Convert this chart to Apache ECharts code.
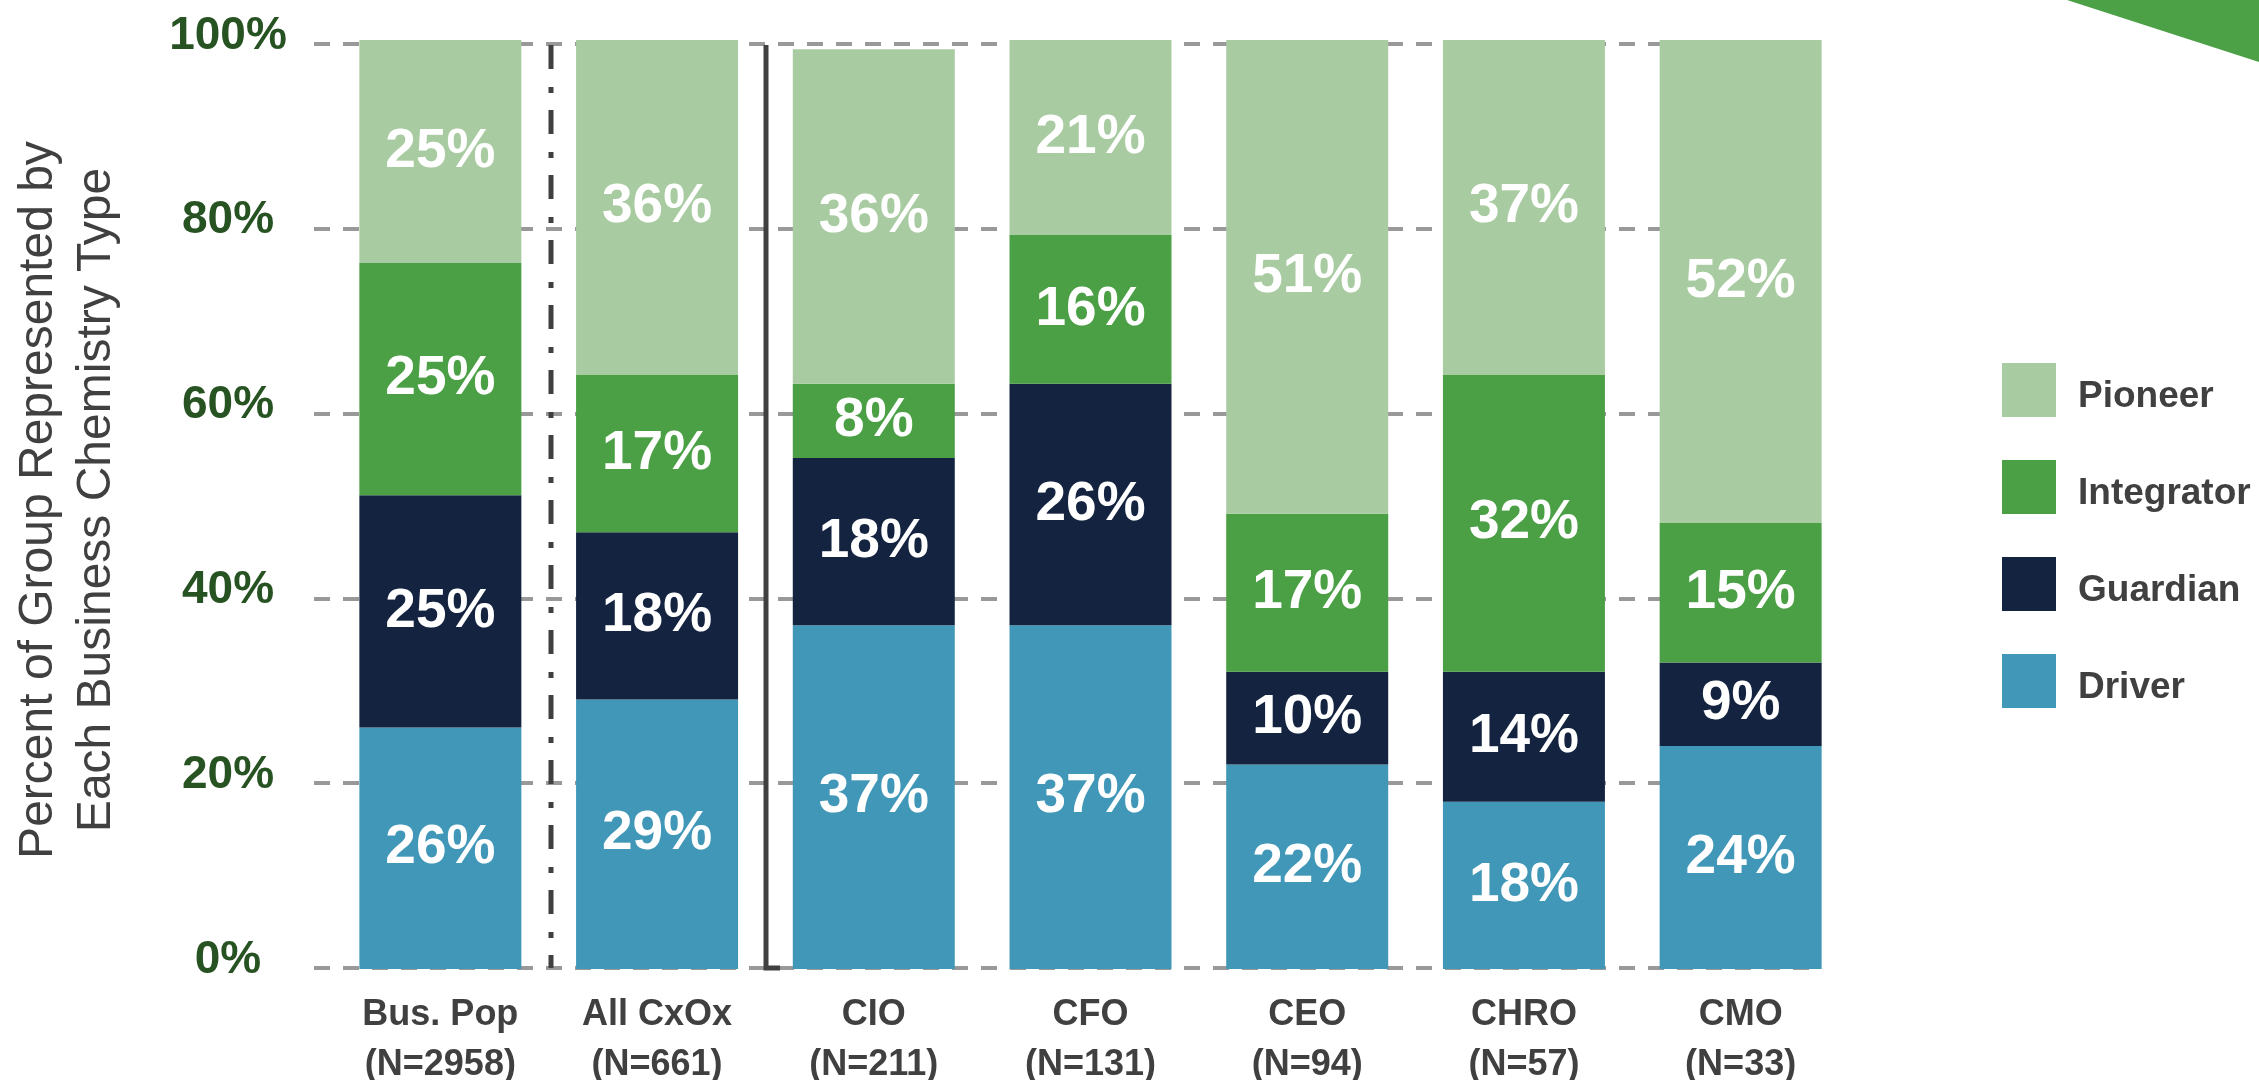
<!DOCTYPE html>
<html>
<head>
<meta charset="utf-8">
<title>Business Chemistry Type</title>
<script src="https://cdn.jsdelivr.net/npm/echarts@6/dist/echarts.min.js"></script>
<style>
	html, body { margin: 0; padding: 0; background: #fff; }
	#myChart { width: 2259px; height: 1080px; }
</style>
</head>
<body>
<div id="myChart"></div>
<script>
//数据
var groups = ['Bus. Pop\n(N=2958)', 'All CxOx\n(N=661)', 'CIO\n(N=211)', 'CFO\n(N=131)', 'CEO\n(N=94)', 'CHRO\n(N=57)', 'CMO\n(N=33)'];
var typeNames = ['Pioneer', 'Integrator', 'Guardian', 'Driver'];
var driver = [26, 29, 37, 37, 22, 18, 24];
var guardian = [25, 18, 18, 26, 10, 14, 9];
var integrator = [25, 17, 8, 16, 17, 32, 15];
var pioneer = [25, 36, 36, 21, 51, 37, 52];
var yTicks = [0, 20, 40, 60, 80, 100];

var fontFam = 'Liberation Sans, Arial, sans-serif';
var colors = {
	Pioneer: '#a9cba1',
	Integrator: '#4b9f44',
	Guardian: '#142440',
	Driver: '#4197b8'
};

function makeSeries(name, data) {
	return {
		name: name,
		type: 'bar',
		stack: 'total',
		xAxisIndex: 0,
		yAxisIndex: 0,
		barWidth: 162,
		itemStyle: { color: colors[name] },
		label: {
			show: true,
			position: 'inside',
			formatter: '{c}%',
			color: '#fff',
			fontSize: 55,
			fontWeight: 'bold',
			fontFamily: fontFam
		},
		data: data
	};
}

var myChart = echarts.init(document.getElementById('myChart'));
var option = {
	animation: false,
	backgroundColor: '#fff',
	legend: {
		data: typeNames,
		orient: 'vertical',
		left: 2002,
		top: 363,
		icon: 'rect',
		itemWidth: 54,
		itemHeight: 54,
		itemGap: 43,
		padding: 0,
		formatter: function (name) {
			return '{t|' + name + '}';
		},
		textStyle: {
			rich: {
				t: {
					fontSize: 37,
					fontWeight: 'bold',
					color: '#404040',
					fontFamily: fontFam,
					padding: [14, 0, 0, 17]
				}
			}
		}
	},
	grid: [
		// 柱子
		{ left: 332, top: 40, width: 1517, height: 929, outerBoundsMode: 'none', containLabel: false },
		// 刻度和虚线
		{ left: 314, top: 44, width: 1498, height: 924, outerBoundsMode: 'none', containLabel: false }
	],
	xAxis: [{
		type: 'category',
		gridIndex: 0,
		data: groups,
		axisLine: { show: false },
		axisTick: { show: false },
		axisLabel: {
			margin: 21,
			fontSize: 36,
			fontWeight: 'bold',
			lineHeight: 50,
			color: '#404040',
			fontFamily: fontFam
		}
	}, {
		type: 'value',
		gridIndex: 1,
		show: false
	}],
	yAxis: [{
		type: 'value',
		gridIndex: 0,
		min: 0,
		max: 100,
		show: false
	}, {
		type: 'value',
		gridIndex: 1,
		min: yTicks[0],
		max: yTicks[yTicks.length - 1],
		interval: yTicks[1] - yTicks[0],
		axisLine: { show: false },
		axisTick: { show: false },
		axisLabel: {
			formatter: '{value}%',
			align: 'center',
			verticalAlign: 'bottom',
			lineHeight: 16,
			margin: 86,
			fontSize: 46,
			fontWeight: 'bold',
			color: '#275323',
			fontFamily: fontFam
		},
		splitLine: {
			show: true,
			lineStyle: { color: '#999', width: 4, type: [16, 13] }
		},
		z: 0
	}],
	series: [
		makeSeries('Driver', driver),
		makeSeries('Guardian', guardian),
		makeSeries('Integrator', integrator),
		makeSeries('Pioneer', pioneer)
	]
};
myChart.setOption(option);

//分隔线 + 装饰
var x0 = myChart.convertToPixel({ xAxisIndex: 0 }, 0);
var x1 = myChart.convertToPixel({ xAxisIndex: 0 }, 1);
var x2 = myChart.convertToPixel({ xAxisIndex: 0 }, 2);
var div1 = Math.round((x0 + x1) / 2) + 2;
var div2 = Math.round((x1 + x2) / 2) + 1;
var yTop = myChart.convertToPixel({ yAxisIndex: 1 }, 100);
var yBot = myChart.convertToPixel({ yAxisIndex: 1 }, 0);

myChart.setOption({
	graphic: [{
		type: 'line',
		shape: { x1: div1, y1: yTop + 1, x2: div1, y2: yBot },
		style: { stroke: '#404040', lineWidth: 5, lineDash: [24, 18, 6, 17] },
		z: 10
	}, {
		type: 'polyline',
		shape: { points: [[div2, yTop + 1], [div2, yBot], [div2 + 14, yBot]] },
		style: { stroke: '#404040', lineWidth: 5, fill: null },
		z: 10
	}, {
		type: 'polygon',
		shape: { points: [[2067, 0], [2259, 0], [2259, 62]] },
		style: { fill: '#4ca046' },
		z: 10
	}, {
		type: 'text',
		x: 68,
		y: 500,
		rotation: Math.PI / 2,
		style: {
			text: 'Percent of Group Represented by\nEach Business Chemistry Type',
			fontSize: 48,
			lineHeight: 58,
			fontFamily: fontFam,
			fill: '#404040',
			align: 'center',
			verticalAlign: 'middle'
		}
	}]
});
</script>
</body>
</html>
